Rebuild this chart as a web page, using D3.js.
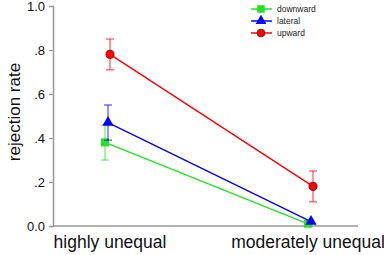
<!DOCTYPE html>
<html><head><meta charset="utf-8">
<script src="https://cdn.jsdelivr.net/npm/d3@7"></script>
<style>body{margin:0;background:#fff}svg{display:block}text{font-family:Arial,"Liberation Sans",sans-serif}</style>
</head><body><svg id="c" width="384" height="255"></svg>
<script>
const categories = ["highly unequal", "moderately unequal"];
const seriesNames = ["downward", "lateral", "upward"];
const downward = [0.38, 0.01];
const downwardErr = [0.08, 0.0];
const lateral = [0.47, 0.02];
const lateralErr = [0.08, 0.0];
const upward = [0.78, 0.18];
const upwardErr = [0.07, 0.07];
const yTicks = [0, 0.2, 0.4, 0.6, 0.8, 1.0];
const yTickLabels = ["0.0", ".2", ".4", ".6", ".8", "1.0"];

const svg = d3.select("#c");
const y = d3.scaleLinear().domain([0, 1]).range([226, 6]);
const x = d3.scalePoint().domain(categories).range([108, 311]);
const series = [
  {name: "downward", vals: downward, err: downwardErr, color: "#1fe61f", stroke: "#1fe61f", shape: d3.symbolSquare, size: 64, dx: -3},
  {name: "lateral", vals: lateral, err: lateralErr, color: "#0000ff", stroke: "#0000ff", shape: d3.symbolTriangle, size: 55, dx: 0},
  {name: "upward", vals: upward, err: upwardErr, color: "#ff0000", stroke: "#800000", shape: d3.symbolCircle, size: 52, dx: 2}
];

// axes
const yAxis = d3.axisLeft(y).tickValues(yTicks).tickFormat((d,i)=>yTickLabels[i]).tickSize(4).tickPadding(4);
const gy = svg.append("g").attr("transform","translate(53,0)").call(yAxis);
gy.select(".domain").attr("stroke","#999").attr("stroke-width",1.5);
gy.selectAll(".tick line").attr("stroke","#999").attr("stroke-width",1);
gy.selectAll(".tick text").attr("font-size",13).attr("fill","#111").style("font-family","Arial,'Liberation Sans',sans-serif");
svg.append("line").attr("x1",53).attr("x2",358).attr("y1",y(0)).attr("y2",y(0)).attr("stroke","#999").attr("stroke-width",1.5);

svg.append("text").attr("transform","translate(20,112) rotate(-90)").attr("text-anchor","middle").attr("font-size",17).attr("fill","#111").text("rejection rate");
const labelX = [110, 308];
categories.forEach((c,i)=>{
  svg.append("text").attr("x", labelX[i]).attr("y", 248).attr("text-anchor","middle").attr("font-size",17.5).attr("fill","#111").text(c);
});

series.forEach(s=>{
  const pts = categories.map((c,i)=>({x:x(c)+s.dx, v:s.vals[i], e:s.err[i]}));
  svg.append("path").attr("d", d3.line().x(d=>d.x).y(d=>y(d.v))(pts)).attr("fill","none").attr("stroke",s.color).attr("stroke-width",1.4);
  pts.forEach(p=>{
    if (p.e>0){
      const g = svg.append("g").attr("stroke",s.color).attr("stroke-opacity",0.6).attr("stroke-width",1.4);
      g.append("line").attr("x1",p.x).attr("x2",p.x).attr("y1",y(p.v-p.e)).attr("y2",y(p.v+p.e));
      g.append("line").attr("x1",p.x-4).attr("x2",p.x+4).attr("y1",y(p.v-p.e)).attr("y2",y(p.v-p.e));
      g.append("line").attr("x1",p.x-4).attr("x2",p.x+4).attr("y1",y(p.v+p.e)).attr("y2",y(p.v+p.e));
    }
    svg.append("path").attr("d", d3.symbol().type(s.shape).size(s.size)()).attr("transform",`translate(${p.x},${y(p.v)})`)
      .attr("fill",s.color).attr("stroke",s.stroke).attr("stroke-width",s.name==="upward"?0.8:0);
  });
});

// legend
series.forEach((s,i)=>{
  const ly = 9 + i*12;
  svg.append("line").attr("x1",251).attr("x2",272).attr("y1",ly).attr("y2",ly).attr("stroke",s.color).attr("stroke-width",1.5);
  svg.append("path").attr("d", d3.symbol().type(s.shape).size(s.size*0.9)()).attr("transform",`translate(261,${ly})`)
    .attr("fill",s.color).attr("stroke",s.stroke).attr("stroke-width",s.name==="upward"?0.8:0);
  svg.append("text").attr("x",277).attr("y",ly+3).attr("font-size",8.5).attr("fill","#222").text(seriesNames[i]);
});
</script></body></html>
